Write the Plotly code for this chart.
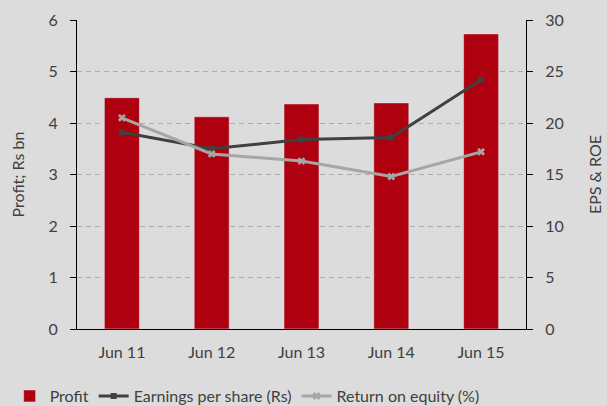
import plotly.graph_objects as go

categories = ["Jun 11", "Jun 12", "Jun 13", "Jun 14", "Jun 15"]
profit = [4.49, 4.12, 4.37, 4.39, 5.73]
eps = [19.1, 17.5, 18.4, 18.6, 24.2]
roe = [20.5, 17.0, 16.3, 14.8, 17.2]

FONT = "Lato, Open Sans, sans-serif"
TXT = "#404040"
BG = "#DCDCDC"

fig = go.Figure()
fig.add_trace(go.Bar(x=categories, y=profit, name="Profit", marker_color="#AE000F",
                     width=0.39, yaxis="y"))
fig.add_trace(go.Scatter(x=categories, y=eps, name="Earnings per share (Rs)", mode="lines+markers",
                         line=dict(color="#404040", width=3),
                         marker=dict(symbol="square", size=6, color="#404040"), yaxis="y2"))
fig.add_trace(go.Scatter(x=categories, y=roe, name="Return on equity (%)", mode="lines+markers",
                         line=dict(color="#A6A6A6", width=3),
                         marker=dict(symbol="x", size=7, color="#A6A6A6"), yaxis="y2"))

fig.update_layout(
    width=607, height=406,
    margin=dict(l=77, r=81, t=20, b=77, autoexpand=False),
    paper_bgcolor=BG, plot_bgcolor=BG,
    font=dict(family=FONT, size=16, color=TXT),
    showlegend=True,
    legend=dict(orientation="h", x=-0.15, xanchor="left", y=-0.162, yanchor="top",
                font=dict(size=16, color=TXT), bgcolor="rgba(0,0,0,0)",
                itemwidth=30, traceorder="normal"),
    xaxis=dict(showline=True, linecolor="black", linewidth=1, ticks="outside", ticklen=9,
               tickcolor=BG, automargin=False,
               tickfont=dict(size=16, color=TXT), showgrid=False),
    yaxis=dict(range=[0, 6], dtick=1, showline=True, linecolor="black", linewidth=1,
               ticks="outside", ticklen=6, tickcolor="black", ticklabelstandoff=9,
               showgrid=True, gridcolor="#ADADAD", griddash="5px,4px", gridwidth=1,
               zeroline=False, automargin=False,
               title=dict(text="Profit; Rs bn", font=dict(size=16, color=TXT), standoff=19),
               tickfont=dict(size=16, color=TXT)),
    yaxis2=dict(range=[0, 30], dtick=5, overlaying="y", side="right", showline=True,
                linecolor="black", linewidth=1, ticks="outside", ticklen=6, tickcolor="black",
                ticklabelstandoff=9, showgrid=False, zeroline=False, automargin=False,
                title=dict(text="EPS & ROE", font=dict(size=16, color=TXT), standoff=27),
                tickfont=dict(size=16, color=TXT)),
    bargap=0.61,
)

fig.write_html("out.html", config={"displayModeBar": False},
               post_script="document.body.style.margin='0';document.body.style.overflow='hidden';")
